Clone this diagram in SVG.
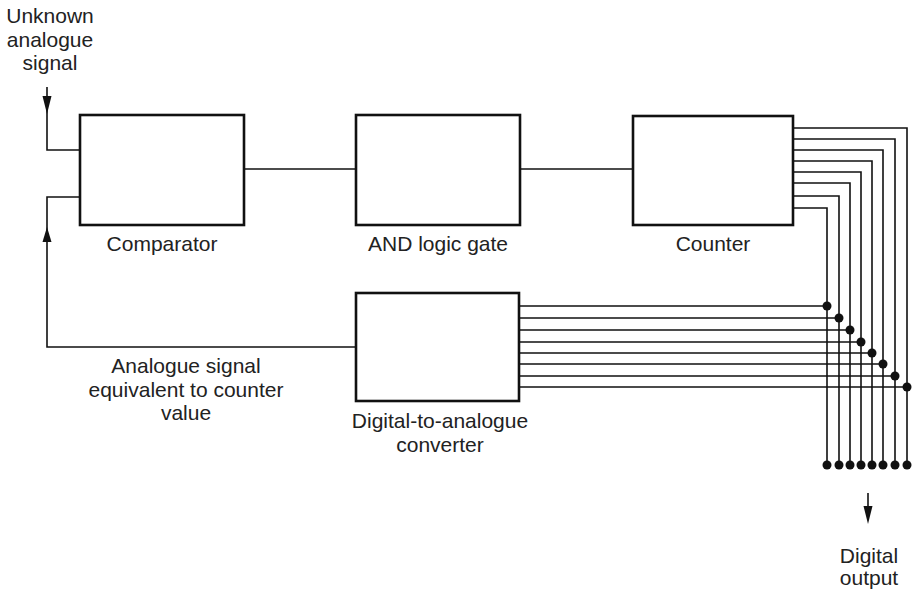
<svg xmlns="http://www.w3.org/2000/svg" width="913" height="589" viewBox="0 0 913 589">
<style>
.box{fill:#fff;stroke:#111;stroke-width:2.6}
.w{fill:none;stroke:#111;stroke-width:1.6}
.t{font-family:"Liberation Sans",Arial,sans-serif;font-size:21px;fill:#222;text-anchor:middle}
.d{fill:#111}
</style>
<rect width="913" height="589" fill="#fff"/>
<g id="connectors">
<path class="w" d="M47,87 V150 H80"/>
<polygon class="d" points="42.5,96 51.5,96 47,114"/>
<path class="w" d="M356,347 H47 V197 H80"/>
<polygon class="d" points="42.5,242 51.5,242 47,227"/>
<path class="w" d="M244,169 H356"/>
<path class="w" d="M520,169 H633"/>
<path class="w" d="M793,128 H907 V465 M793,139 H895 V465 M793,150 H883 V465 M793,161 H872 V465 M793,172 H861 V465 M793,183 H850 V465 M793,196 H839 V465 M793,208 H827 V465"/>
<path class="w" d="M519,306 H827 M519,318 H839 M519,330 H850 M519,342 H861 M519,353 H872 M519,364 H883 M519,376 H895 M519,387 H907"/>
<g class="d">
<circle cx="827" cy="306" r="4.5"/><circle cx="839" cy="318" r="4.5"/><circle cx="850" cy="330" r="4.5"/><circle cx="861" cy="342" r="4.5"/><circle cx="872" cy="353" r="4.5"/><circle cx="883" cy="364" r="4.5"/><circle cx="895" cy="376" r="4.5"/><circle cx="907" cy="387" r="4.5"/>
<circle cx="827" cy="465" r="4.5"/><circle cx="839" cy="465" r="4.5"/><circle cx="850" cy="465" r="4.5"/><circle cx="861" cy="465" r="4.5"/><circle cx="872" cy="465" r="4.5"/><circle cx="883" cy="465" r="4.5"/><circle cx="895" cy="465" r="4.5"/><circle cx="907" cy="465" r="4.5"/>
</g>
<path class="w" d="M868,493 V510"/>
<polygon class="d" points="863.5,506 872.5,506 868,524"/>
</g>
<g id="input-label">
<text class="t" x="50" y="23">Unknown</text>
<text class="t" x="50" y="47">analogue</text>
<text class="t" x="50" y="70">signal</text>
</g>
<g id="comparator">
<rect class="box" x="80" y="115" width="164" height="110"/>
<text class="t" x="162" y="251">Comparator</text>
</g>
<g id="and-gate">
<rect class="box" x="356" y="115" width="164" height="110"/>
<text class="t" x="438" y="251">AND logic gate</text>
</g>
<g id="counter">
<rect class="box" x="633" y="116" width="160" height="109"/>
<text class="t" x="713" y="251">Counter</text>
</g>
<g id="dac">
<rect class="box" x="356" y="293" width="163" height="108"/>
<text class="t" x="440" y="428">Digital-to-analogue</text>
<text class="t" x="440" y="452">converter</text>
</g>
<g id="feedback-label">
<text class="t" x="186" y="373">Analogue signal</text>
<text class="t" x="186" y="397">equivalent to counter</text>
<text class="t" x="186" y="420">value</text>
</g>
<g id="output-label">
<text class="t" x="869" y="563">Digital</text>
<text class="t" x="869" y="585">output</text>
</g>
</svg>
